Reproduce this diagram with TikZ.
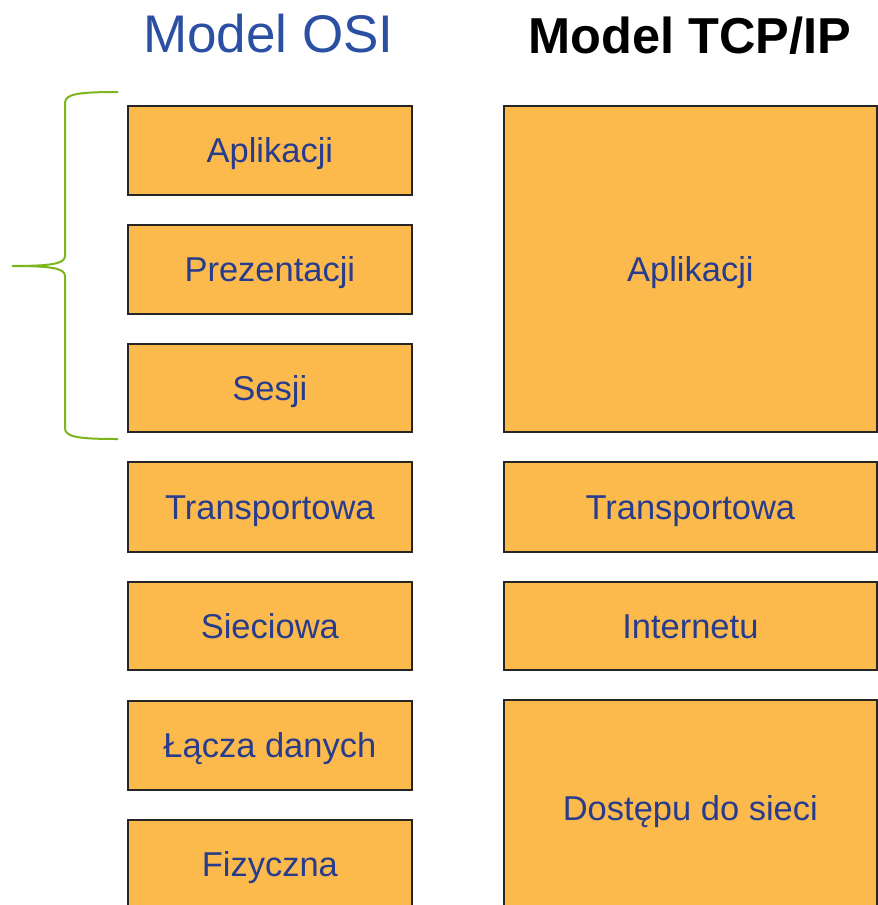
\documentclass[tikz,border=0pt]{standalone}
\usepackage{fontspec}
\setmainfont{Liberation Sans}
\definecolor{boxfill}{HTML}{FDBA4C}
\definecolor{txtblue}{HTML}{283C8E}
\definecolor{osiblue}{HTML}{2A4FA3}
\definecolor{bracegreen}{HTML}{7DB51E}
\tikzset{
  layer/.style={draw=black!85, line width=1.7pt, fill=boxfill, text=txtblue,
    font=\fontsize{34.5}{40}\selectfont, inner sep=0pt, anchor=north west,
    text height=25pt, text depth=0pt},
  title/.style={font=\fontsize{53}{60}\selectfont, inner sep=0pt, anchor=base}
}
\begin{document}
\begin{tikzpicture}[x=1pt,y=-1pt]
\useasboundingbox (0,0) rectangle (878,905);
\fill[white] (0,0) rectangle (878,905);
% titles
\node[title, text=osiblue] (tosi) at (268.5,52) {Model OSI};
\node[title, font=\fontsize{50.5}{58}\selectfont\bfseries] (ttcp) at (690,53) {Model TCP/IP};
% OSI column
\node[layer, minimum width=284pt, minimum height=89pt] (o7) at (127,105) {Aplikacji};
\node[layer, minimum width=284pt, minimum height=89pt] (o6) at (127,224) {Prezentacji};
\node[layer, minimum width=284pt, minimum height=88pt] (o5) at (127,343) {Sesji};
\node[layer, minimum width=284pt, minimum height=90pt] (o4) at (127,461) {Transportowa};
\node[layer, minimum width=284pt, minimum height=88pt] (o3) at (127,581) {Sieciowa};
\node[layer, minimum width=284pt, minimum height=89pt] (o2) at (127,700) {Łącza danych};
\node[layer, minimum width=284pt, minimum height=89pt] (o1) at (127,819) {Fizyczna};
% TCP/IP column
\node[layer, minimum width=373pt, minimum height=326pt] (t4) at (503,105) {Aplikacji};
\node[layer, minimum width=373pt, minimum height=90pt] (t3) at (503,461) {Transportowa};
\node[layer, minimum width=373pt, minimum height=88pt] (t2) at (503,581) {Internetu};
\node[layer, minimum width=373pt, minimum height=216pt] (t1) at (503,699) {Dostępu do sieci};
% brace
\coordinate (btop) at (118,92);
\coordinate (bmid) at (12,266);
\coordinate (bbot) at (118,439);
\draw[bracegreen, line width=2pt]
  (btop) .. controls (78,92) and (65,94) .. (65,103)
  -- (65,256) .. controls (65,264) and (50,266) .. (bmid)
  .. controls (50,266) and (65,268) .. (65,276)
  -- (65,428) .. controls (65,437) and (78,439) .. (bbot);
\end{tikzpicture}
\end{document}
